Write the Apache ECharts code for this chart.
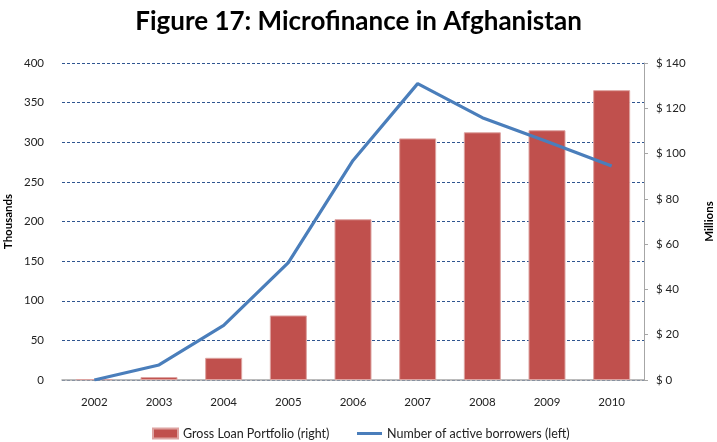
<!DOCTYPE html>
<html>
<head>
<meta charset="utf-8">
<script src="https://cdn.jsdelivr.net/npm/echarts@6/dist/echarts.min.js"></script>
<style>
html,body{margin:0;padding:0;background:#fff;}
#c{width:717px;height:442px;}
</style>
</head>
<body>
<div id="c"></div>
<script>
const years = ['2002','2003','2004','2005','2006','2007','2008','2009','2010'];
const grossLoanPortfolio = [0.4, 1.3, 9.8, 28.5, 71, 106.7, 109.4, 110.3, 128];
const activeBorrowers = [0, 19, 69, 148, 277, 374, 331, 301, 270];
const leftTicks = [0, 400, 50];
const rightTicks = [0, 140, 20];
const titleText = 'Figure 17: Microfinance in Afghanistan';
const barName = 'Gross Loan Portfolio (right)';
const lineName = 'Number of active borrowers (left)';

const FONT = 'Lato';
const legendText = {fontFamily:FONT,fontSize:12.5,color:'#222'};
const chart = echarts.init(document.getElementById('c'), null, {renderer:'canvas'});
chart.setOption({
  animation:false,
  backgroundColor:'#fff',
  title:{text:titleText,left:'center',top:4,
    textStyle:{fontFamily:FONT,fontWeight:'bold',fontSize:26,color:'#000'}},
  grid:{left:62,right:73,top:63,bottom:62,containLabel:false,outerBoundsMode:'none'},
  legend:[
    {left:152,top:427,padding:0,itemWidth:25,itemHeight:10,itemGap:0,textStyle:legendText,
     data:[{name:barName,icon:'rect'}]},
    {left:357,top:427,padding:0,itemWidth:25,itemHeight:3,itemGap:0,textStyle:legendText,
     data:[{name:lineName,icon:'rect'}]}
  ],
  xAxis:{type:'category',data:years,
    axisLine:{lineStyle:{color:'#A6A6A6',width:1.5}},
    axisTick:{show:false},
    axisLabel:{fontFamily:FONT,fontSize:11.5,color:'#222',margin:16}},
  yAxis:[
    {type:'value',min:leftTicks[0],max:leftTicks[1],interval:leftTicks[2],
     name:'Thousands',nameLocation:'middle',nameGap:48,nameRotate:90,nameMoveOverlap:false,
     nameTextStyle:{fontFamily:FONT,fontWeight:'bold',fontSize:11.5,color:'#000'},
     axisLine:{show:false},axisTick:{show:false},
     axisLabel:{fontFamily:FONT,fontSize:11.5,color:'#222',margin:18},
     splitLine:{show:true,lineStyle:{type:[3,2],color:'#2F5590',width:1}}},
    {type:'value',min:rightTicks[0],max:rightTicks[1],interval:rightTicks[2],
     name:'Millions',nameLocation:'middle',nameGap:59,nameRotate:90,nameMoveOverlap:false,
     nameTextStyle:{fontFamily:FONT,fontWeight:'bold',fontSize:11.5,color:'#000'},
     axisLine:{show:true,lineStyle:{color:'#A6A6A6',width:1}},
     axisTick:{show:true,length:4,lineStyle:{color:'#A6A6A6'}},
     axisLabel:{fontFamily:FONT,fontSize:11.5,color:'#222',margin:12,formatter:v=>'$ '+v},
     splitLine:{show:false}}
  ],
  series:[
    {name:barName,type:'bar',yAxisIndex:1,data:grossLoanPortfolio,barWidth:37,
     itemStyle:{color:'#C0504D',borderColor:'#DDA3A1',borderWidth:1}},
    {name:lineName,type:'line',yAxisIndex:0,data:activeBorrowers,showSymbol:false,symbol:'none',
     lineStyle:{color:'#4A7EBB',width:3.2},itemStyle:{color:'#4A7EBB'}}
  ]
});
</script>
</body>
</html>
